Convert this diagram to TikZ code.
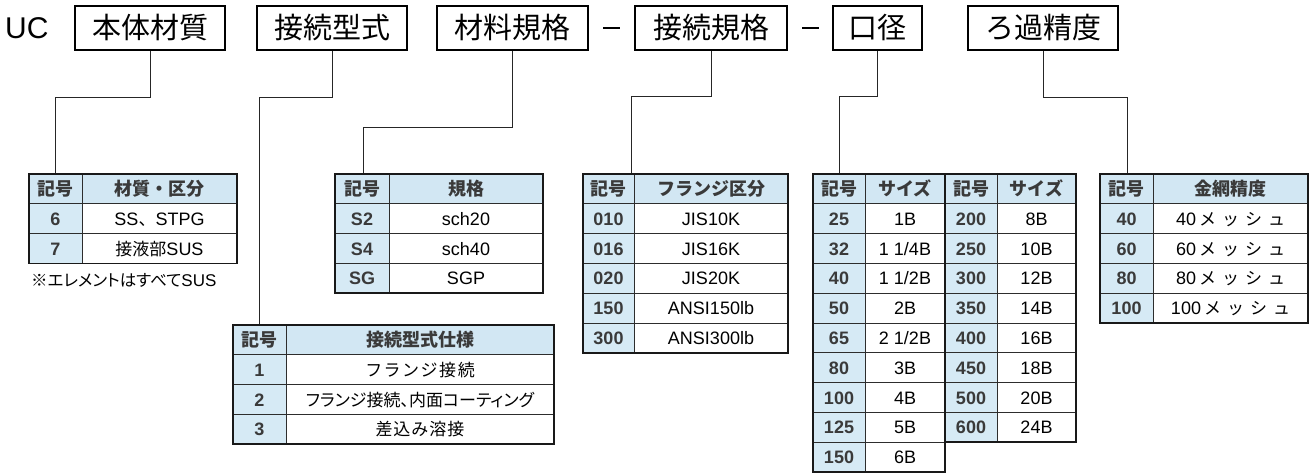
\documentclass[tikz,border=0pt]{standalone}
\usepackage{fontspec}
\setmainfont{Liberation Sans}
\newfontfamily\jp{Noto Sans CJK JP}
\newfontfamily\jpp{Noto Sans CJK JP}[RawFeature=+palt]
\definecolor{hdrfill}{RGB}{210,231,243}
\definecolor{colfill}{RGB}{214,234,245}
\definecolor{codegray}{RGB}{58,58,58}
\definecolor{gridc}{RGB}{45,45,45}
\def\rowh{29.8}
\newcommand{\J}[1]{{\jp\fontsize{17}{17}\selectfont #1}}
\newcommand{\mkgrid}[5]{%
  \pgfmathsetmacro{\gb}{#4+#5*\rowh}%
  \fill[hdrfill] (#1,#4) rectangle (#3,{#4+\rowh});
  \fill[colfill] (#1,{#4+\rowh}) rectangle (#2,\gb);
  \pgfmathtruncatemacro{\gn}{#5-1}%
  \foreach \k in {1,...,\gn}{\draw[gridline] (#1,{#4+\k*\rowh}) -- (#3,{#4+\k*\rowh});}
  \draw[gridline] (#2,#4) -- (#2,\gb);
}
\newcommand{\mkrow}[8]{%
  \node[codetxt] (#1c) at ({(#2+#3)/2},{#5+(#6+0.5)*\rowh}) {#7};
  \node[valtxt] (#1v) at ({(#3+#4)/2},{#5+(#6+0.5)*\rowh}) {#8};}
\newcommand{\mkhead}[6]{%
  \node[hdtxt] (#1c) at ({(#2+#3)/2},{#5+0.5*\rowh}) {記号};
  \node[hdtxt] (#1v) at ({(#3+#4)/2},{#5+0.5*\rowh}) {#6};}
\tikzset{
  hbox/.style={draw=black, line width=2pt, fill=white, minimum height=44pt, inner sep=0pt,
    font=\jp\fontsize{29}{29}\selectfont, text height=22pt, text depth=0pt},
  conn/.style={line width=1pt, draw=black!85},
  gridline/.style={line width=0.8pt, draw=gridc},
  outer/.style={line width=1.8pt, draw=black!90},
  codetxt/.style={font=\bfseries\fontsize{18}{18}\selectfont, text=codegray, inner sep=0pt, text height=13pt, text depth=0pt},
  valtxt/.style={font=\fontsize{18}{18}\selectfont, text=black, inner sep=0pt, text height=13pt, text depth=0pt},
  hdtxt/.style={font=\jp\bfseries\fontsize{18}{18}\selectfont, text=codegray, inner sep=0pt, text height=13pt, text depth=0pt},
}
\begin{document}
\begin{tikzpicture}[x=1pt,y=-1pt]
\useasboundingbox (0,0) rectangle (1315,476);
% header
\node[font=\fontsize{30}{30}\selectfont, inner sep=0pt, anchor=west, text height=21.5pt, text depth=0pt] (uc) at (5,28) {UC};
\node[hbox, minimum width=150pt] (b1) at (150,28) {本体材質};
\node[hbox, minimum width=150pt] (b2) at (332,28) {接続型式};
\node[hbox, minimum width=151pt] (b3) at (512.5,28) {材料規格};
\node[hbox, minimum width=152pt] (b4) at (711,28) {接続規格};
\node[hbox, minimum width=89pt] (b5) at (877.5,28) {口径};
\node[hbox, minimum width=150pt] (b6) at (1043,28) {ろ過精度};
\coordinate (d1a) at (603,28); \coordinate (d1b) at (620,28);
\coordinate (d2a) at (802,28); \coordinate (d2b) at (819,28);
\draw[line width=2pt] (d1a) -- (d1b);
\draw[line width=2pt] (d2a) -- (d2b);
% connectors
\coordinate (a1) at (55,174);
\coordinate (a2) at (259,325);
\coordinate (a3) at (363,174);
\coordinate (a4) at (631,174);
\coordinate (a5) at (839,174);
\coordinate (a6) at (1127,174);
\draw[conn] (b1.south) -- ++(0,47) -| (a1);
\draw[conn] (b2.south) -- ++(0,47) -| (a2);
\draw[conn] (b3.south) -- ++(0,77) -| (a3);
\draw[conn] (b4.south) -- ++(0,46) -| (a4);
\draw[conn] (b5.south) -- ++(0,46) -| (a5);
\draw[conn] (b6.south) -- ++(0,47) -| (a6);
% table 1
\mkgrid{29}{82}{237}{174}{3}
\draw[outer] (29,174) rectangle (237,{174+3*\rowh});
\mkhead{ta0}{29}{82}{237}{174}{材質・区分}
\mkrow{ta1}{29}{82}{237}{174}{1}{6}{SS\J{、}STPG}
\mkrow{ta2}{29}{82}{237}{174}{2}{7}{\J{接液部}SUS}
\node[inner sep=0pt, anchor=west, font=\fontsize{17}{17}\selectfont] (note) at (31,280) {{\jpp\fontsize{16.5}{16.5}\selectfont ※エレメントはすべて}SUS};
% table 2
\mkgrid{335}{389}{543}{174}{4}
\draw[outer] (335,174) rectangle (543,{174+4*\rowh});
\mkhead{tb0}{335}{389}{543}{174}{規格}
\mkrow{tb1}{335}{389}{543}{174}{1}{S2}{sch20}
\mkrow{tb2}{335}{389}{543}{174}{2}{S4}{sch40}
\mkrow{tb3}{335}{389}{543}{174}{3}{SG}{SGP}
% table 3
\mkgrid{233}{286}{554}{325}{4}
\draw[outer] (233,325) rectangle (554,{325+4*\rowh});
\mkhead{tc0}{233}{286}{554}{325}{接続型式仕様}
\mkrow{tc1}{233}{286}{554}{325}{1}{1}{\J{フ\kern1.5pt ラ\kern1.5pt ン\kern1.5pt ジ\kern1.5pt 接\kern1.5pt 続}}
\mkrow{tc2}{233}{286}{554}{325}{2}{2}{{\jpp\fontsize{17}{17}\selectfont フランジ接続、内面コーティング}}
\mkrow{tc3}{233}{286}{554}{325}{3}{3}{\J{差\kern1pt 込\kern1pt み\kern1pt 溶\kern1pt 接}}
% table 4
\mkgrid{583}{634}{788}{174}{6}
\draw[outer] (583,174) rectangle (788,{174+6*\rowh});
\mkhead{td0}{583}{634}{788}{174}{フランジ区分}
\mkrow{td1}{583}{634}{788}{174}{1}{010}{JIS10K}
\mkrow{td2}{583}{634}{788}{174}{2}{016}{JIS16K}
\mkrow{td3}{583}{634}{788}{174}{3}{020}{JIS20K}
\mkrow{td4}{583}{634}{788}{174}{4}{150}{ANSI150lb}
\mkrow{td5}{583}{634}{788}{174}{5}{300}{ANSI300lb}
% table 5
\mkgrid{813}{865}{945}{174}{10}
\mkgrid{945}{997}{1076}{174}{9}
\draw[outer] (813,174) -- (1076,174) -- (1076,{174+9*\rowh}) -- (945,{174+9*\rowh}) -- (945,{174+10*\rowh}) -- (813,{174+10*\rowh}) -- cycle;
\draw[outer] (945,174) -- (945,{174+9*\rowh});
\mkhead{te0}{813}{865}{945}{174}{サイズ}
\mkrow{te1}{813}{865}{945}{174}{1}{25}{1B}
\mkrow{te2}{813}{865}{945}{174}{2}{32}{1 1/4B}
\mkrow{te3}{813}{865}{945}{174}{3}{40}{1 1/2B}
\mkrow{te4}{813}{865}{945}{174}{4}{50}{2B}
\mkrow{te5}{813}{865}{945}{174}{5}{65}{2 1/2B}
\mkrow{te6}{813}{865}{945}{174}{6}{80}{3B}
\mkrow{te7}{813}{865}{945}{174}{7}{100}{4B}
\mkrow{te8}{813}{865}{945}{174}{8}{125}{5B}
\mkrow{te9}{813}{865}{945}{174}{9}{150}{6B}
\mkhead{tf0}{945}{997}{1076}{174}{サイズ}
\mkrow{tf1}{945}{997}{1076}{174}{1}{200}{8B}
\mkrow{tf2}{945}{997}{1076}{174}{2}{250}{10B}
\mkrow{tf3}{945}{997}{1076}{174}{3}{300}{12B}
\mkrow{tf4}{945}{997}{1076}{174}{4}{350}{14B}
\mkrow{tf5}{945}{997}{1076}{174}{5}{400}{16B}
\mkrow{tf6}{945}{997}{1076}{174}{6}{450}{18B}
\mkrow{tf7}{945}{997}{1076}{174}{7}{500}{20B}
\mkrow{tf8}{945}{997}{1076}{174}{8}{600}{24B}
% table 6
\mkgrid{1100}{1153}{1308}{174}{5}
\draw[outer] (1100,174) rectangle (1308,{174+5*\rowh});
\mkhead{tg0}{1100}{1153}{1308}{174}{金網精度}
\mkrow{tg1}{1100}{1153}{1308}{174}{1}{40}{40\J{\kern3pt メ\kern6pt ッ\kern6pt シ\kern6pt ュ}}
\mkrow{tg2}{1100}{1153}{1308}{174}{2}{60}{60\J{\kern3pt メ\kern6pt ッ\kern6pt シ\kern6pt ュ}}
\mkrow{tg3}{1100}{1153}{1308}{174}{3}{80}{80\J{\kern3pt メ\kern6pt ッ\kern6pt シ\kern6pt ュ}}
\mkrow{tg4}{1100}{1153}{1308}{174}{4}{100}{100\J{\kern3pt メ\kern6pt ッ\kern6pt シ\kern6pt ュ}}
\end{tikzpicture}
\end{document}
